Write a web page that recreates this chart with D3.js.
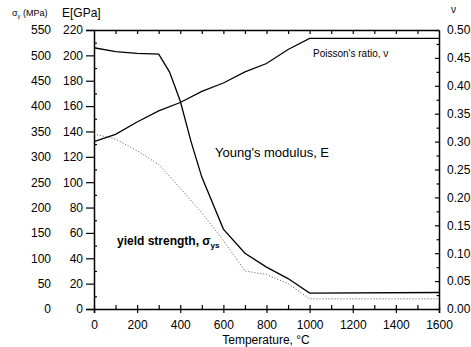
<!DOCTYPE html>
<html>
<head>
<meta charset="utf-8">
<script src="https://cdn.jsdelivr.net/npm/d3@7"></script>
<style>
  html, body { margin: 0; padding: 0; background: #fff; }
  svg { display: block; font-family: "Liberation Sans", Arial, sans-serif; }
  .tick text { fill: #000; }
</style>
</head>
<body>
<svg id="chart" width="471" height="347"></svg>
<script>
// Temperature (°C) sample points for each property curve
const youngT = [0, 100, 200, 300, 350, 400, 450, 500, 600, 700, 800, 900, 1000, 1600];
const youngE = [206, 203, 201.5, 201, 187, 164, 132, 104, 63, 44, 33, 24, 12.5, 13];   // GPa

const poissonT = [0, 100, 200, 300, 400, 500, 600, 700, 800, 900, 1000, 1600];
const poissonNu = [0.30, 0.313, 0.335, 0.355, 0.37, 0.39, 0.405, 0.425, 0.44, 0.465, 0.485, 0.485];

const yieldT = [0, 100, 200, 300, 400, 500, 600, 700, 800, 900, 1000, 1600];
const yieldSigma = [345, 335, 312, 285, 238, 190, 135, 75, 68, 50, 20, 20];  // MPa

// Tick labels
const tempTicks = [0, 200, 400, 600, 800, 1000, 1200, 1400, 1600];
const eTicks = [0, 20, 40, 60, 80, 100, 120, 140, 160, 180, 200, 220];
const sigmaTicks = [0, 50, 100, 150, 200, 250, 300, 350, 400, 450, 500, 550];
const nuTicks = [0, 0.05, 0.10, 0.15, 0.20, 0.25, 0.30, 0.35, 0.40, 0.45, 0.50];

const svg = d3.select("#chart");
const L = 94, R = 439, T = 30, B = 309;

const x = d3.scaleLinear().domain([0, 1600]).range([L, R]);
const yE = d3.scaleLinear().domain([0, 220]).range([B, T]);
const yS = d3.scaleLinear().domain([0, 550]).range([B, T]);
const yN = d3.scaleLinear().domain([0, 0.5]).range([B, T]);

function styleAxis(g) {
  g.selectAll(".domain").attr("stroke", "#000").attr("stroke-width", 1.5);
  g.selectAll(".tick line").attr("stroke", "#000").attr("stroke-width", 1.2);
  g.selectAll(".tick text").attr("font-size", 12);
}

// Left axis: E (GPa), major ticks outward
const gE = svg.append("g").attr("transform", `translate(${L},0)`)
  .call(d3.axisLeft(yE).tickValues(eTicks).tickSize(8).tickPadding(3).tickFormat(d3.format("d")));
styleAxis(gE);
// Left minor ticks, inward
svg.append("g").attr("transform", `translate(${L},0)`)
  .call(d3.axisRight(yE).tickValues(d3.range(10, 220, 20)).tickSize(3).tickFormat(""))
  .call(g => g.select(".domain").remove())
  .selectAll("line").attr("stroke", "#000").attr("stroke-width", 1.2);

// σy (MPa) label column
const gS = svg.append("g").attr("transform", `translate(51,0)`)
  .call(d3.axisLeft(yS).tickValues(sigmaTicks).tickSize(0).tickPadding(0).tickFormat(d3.format("d")))
  .call(g => g.select(".domain").remove());
gS.selectAll(".tick text").attr("font-size", 12);

// Right axis: Poisson's ratio, ticks inward
const gN = svg.append("g").attr("transform", `translate(${R},0)`)
  .call(d3.axisRight(yN).tickValues(nuTicks).tickSizeInner(-4).tickSizeOuter(0).tickPadding(8).tickFormat(d3.format(".2f")));
styleAxis(gN);
svg.append("g").attr("transform", `translate(${R},0)`)
  .call(d3.axisLeft(yN).tickValues(d3.range(0.025, 0.5, 0.05)).tickSize(2.5).tickFormat(""))
  .call(g => g.select(".domain").remove())
  .selectAll("line").attr("stroke", "#000").attr("stroke-width", 1.2);

// Bottom axis: temperature
const gX = svg.append("g").attr("transform", `translate(0,${B})`)
  .call(d3.axisBottom(x).tickValues(tempTicks).tickSize(4).tickPadding(7).tickFormat(d3.format("d")));
styleAxis(gX);
svg.append("g").attr("transform", `translate(0,${B})`)
  .call(d3.axisTop(x).tickValues(d3.range(0, 1601, 100)).tickSize(4).tickFormat(""))
  .call(g => g.select(".domain").remove())
  .selectAll("line").attr("stroke", "#000").attr("stroke-width", 1.2);

// Top frame with inward ticks
svg.append("g").attr("transform", `translate(0,${T})`)
  .call(d3.axisBottom(x).tickValues(d3.range(100, 1600, 100)).tickSizeInner(4).tickSizeOuter(0).tickFormat(""))
  .call(styleAxis);

// Curves
const lineE = d3.line().x((d, i) => x(youngT[i])).y(d => yE(d));
const lineN = d3.line().x((d, i) => x(poissonT[i])).y(d => yN(d));
const lineS = d3.line().x((d, i) => x(yieldT[i])).y(d => yS(d));

svg.append("path").datum(yieldSigma).attr("d", lineS)
  .attr("fill", "none").attr("stroke", "#555").attr("stroke-width", 1)
  .attr("stroke-dasharray", "1,2");
svg.append("path").datum(youngE).attr("d", lineE)
  .attr("fill", "none").attr("stroke", "#000").attr("stroke-width", 1.3);
svg.append("path").datum(poissonNu).attr("d", lineN)
  .attr("fill", "none").attr("stroke", "#000").attr("stroke-width", 1.2);

// Axis titles
const sig = svg.append("text").attr("x", 12).attr("y", 16).attr("font-size", 9);
sig.append("tspan").text("σ");
sig.append("tspan").attr("font-size", 6).attr("dy", 2).text("y");
sig.append("tspan").attr("dy", -2).text(" (MPa)");

svg.append("text").attr("x", 62).attr("y", 17).attr("font-size", 12).text("E[GPa]");
svg.append("text").attr("x", 451).attr("y", 13).attr("font-size", 10).text("ν");

svg.append("text").attr("x", 266).attr("y", 344).attr("text-anchor", "middle")
  .attr("font-size", 12).text("Temperature, °C");

// Curve annotations
svg.append("text").attr("x", 313).attr("y", 57).attr("font-size", 10).text("Poisson's ratio, ν");
svg.append("text").attr("x", 215).attr("y", 157).attr("font-size", 13).text("Young's modulus, E");
const ys = svg.append("text").attr("x", 117).attr("y", 245).attr("font-size", 12).attr("font-weight", "bold");
ys.append("tspan").text("yield strength, σ");
ys.append("tspan").attr("font-size", 8).attr("dy", 3).text("ys");
</script>
</body>
</html>
